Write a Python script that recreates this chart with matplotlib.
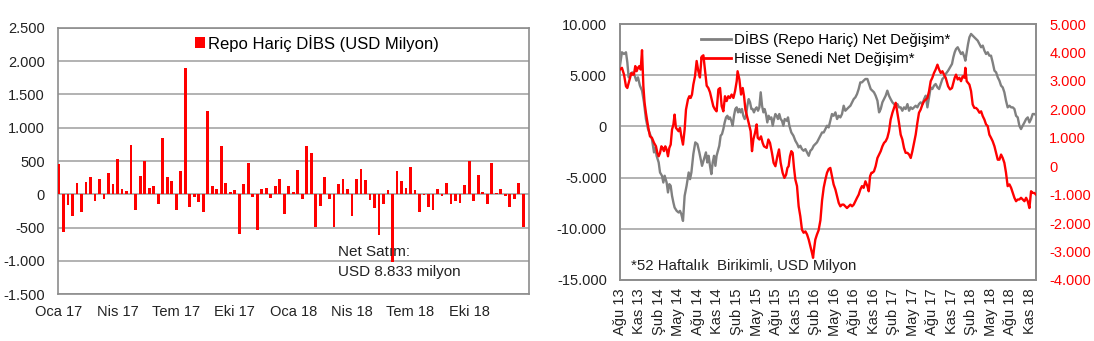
import matplotlib
matplotlib.use('Agg')
import matplotlib.pyplot as plt
from matplotlib.lines import Line2D

plt.rcParams['font.family'] = ['Liberation Sans', 'DejaVu Sans']

# ---------------- Left panel data: weekly net flows (USD mn) ----------------
flow_values = [
    460, -575, -155, -330, 170, -260, 185, 255, -105, 235,
    -75, 320, 150, 530, 80, 50, 740, -230, 270, 495,
    100, 120, -140, 845, 255, 205, -230, 355, 1895, -195,
    -40, -110, -260, 1255, 120, 85, 725, 170, 35, 70,
    -605, 155, 465, -35, -540, 80, 95, -60, 120, 235,
    -295, 120, 35, 360, -75, 725, 620, -490, -175, 255,
    -75, -490, 155, 235, 85, -330, 235, 375, 220, -90,
    -210, -620, -140, 65, -1020, 355, 205, 100, 410, 65,
    -260, -10, -190, -230, 80, -20, 170, -140, -105, -125,
    135, 495, -105, 290, 35, -140, 465, 15, 85, -20,
    -190, -75, 170, -490,
]
flow_xlabels = ['Oca 17', 'Nis 17', 'Tem 17', 'Eki 17', 'Oca 18', 'Nis 18', 'Tem 18', 'Eki 18']
flow_yticks = [-1500, -1000, -500, 0, 500, 1000, 1500, 2000, 2500]
flow_ylabels = ['-1.500', '-1.000', '-500', '0', '500', '1.000', '1.500', '2.000', '2.500']
flow_legend = 'Repo Hariç DİBS (USD Milyon)'
flow_note = ['Net Satım:', 'USD 8.833 milyon']

# ---------------- Right panel data: 52-week cumulative (USD mn) ----------------
dibs_weeks = [
    0.0, 1.3, 2.7, 4.0, 4.9, 5.8, 7.1, 8.4, 9.8, 10.9,
    12.0, 13.3, 14.7, 16.0, 17.3, 18.7, 20.0, 21.3, 22.7, 23.6,
    24.4, 25.8, 26.7, 28.0, 28.9, 29.8, 31.1, 32.0, 32.9, 33.8,
    34.7, 35.6, 36.4, 37.8, 39.1, 40.0, 40.9, 42.0, 43.1, 44.4,
    45.8, 46.7, 47.6, 48.9, 50.2, 51.6, 52.9,
    54.7, 56.0, 57.3, 58.2, 59.1, 60.0, 60.9, 61.8, 62.7, 63.6,
    64.4, 65.3, 66.2, 67.1, 68.0, 68.9, 69.8, 70.7, 71.6, 72.4,
    73.3, 74.2, 75.1, 76.0, 76.9, 77.8, 78.7, 79.6, 80.4, 81.3,
    82.2, 83.1, 84.0, 84.9, 85.8, 86.7, 87.6, 88.4, 89.3, 90.2,
    91.1, 92.0, 92.9, 93.8, 94.7, 95.6, 96.4, 97.3, 98.2, 99.1,
    100.0, 100.9, 101.8, 102.7, 103.6, 104.4, 105.3, 106.2, 107.1, 108.0,
    108.9, 109.8,
    111.1, 112.0, 112.9, 114.2, 115.6, 116.9, 118.2, 119.1, 120.2, 121.3,
    122.4, 123.6, 124.7, 125.8, 126.9, 128.0, 129.1, 130.2, 131.3, 132.4,
    133.6, 134.7, 135.8, 136.9, 138.0, 139.1, 140.2, 141.3, 142.4, 143.6,
    144.7, 145.8, 146.9, 148.0, 149.1, 150.2, 151.3, 152.4, 153.6, 154.7,
    155.8, 156.9, 158.0, 159.1, 160.2, 161.3, 162.4, 163.6,
    164.9, 166.0, 167.1, 168.2, 169.3, 170.4, 171.6, 172.7, 173.8, 174.9,
    176.0, 177.1, 178.2, 179.3, 180.4, 181.6, 182.7, 183.8, 184.9, 186.0,
    187.1, 188.2, 189.3, 190.4, 191.6, 192.7, 193.8, 194.9, 196.0, 197.1,
    198.2, 199.3, 200.4, 201.6, 202.7, 203.8, 204.9, 206.0, 207.1, 208.2,
    209.3, 210.4, 211.6, 212.7, 213.8, 214.9, 216.0, 217.1,
    218.7, 220.0, 221.3, 222.2, 223.1, 224.0, 225.1, 226.2, 227.3, 228.4,
    229.6, 230.2, 231.1, 232.0, 232.9, 234.0, 235.1, 236.2, 237.3, 238.4,
    239.6, 240.7, 241.8, 242.9, 244.0, 245.1, 246.2, 247.3, 248.4, 249.6,
    250.7, 251.8, 252.9, 254.0, 255.1, 256.2, 257.3, 258.4, 259.6, 260.7,
    261.8, 262.9, 264.0, 265.1, 266.2, 267.3, 268.4, 269.6, 270.7, 271.8,
    272.9, 274.0, 275.1, 276.2, 277.3,
]
dibs_values = [
    5930, 7240, 7070, 7240, 6260, 4790, 5120, 5280, 4960, 4470,
    4790, 3980, 3490, 2350, 720, -260, -750, -1240, -2540, -2050,
    -2870, -3520, -4500, -4820, -5480, -4820, -5480, -6450, -5640, -5800,
    -6780, -7430, -7920, -8250, -8410, -8250, -8570, -9230, -6780, -5800,
    -4500, -5150, -4500, -2700, -1560, -1730, -2540,
    -3850, -3200, -2540, -3520, -2870, -3850, -4660, -3520, -2870, -3850,
    -2870, -2380, -1890, -910, -750, -260, 390, 880, 1040, 720,
    880, 550, 65, 1040, 1700, 1860, 1370, 1700, 1370, 1700,
    1040, 720, 1040, 2020, 2670, 2350, 1700, 1700, 1370, 1700,
    1860, 1530, 1860, 3330, 2020, 1370, 1700, 1210, 390, 1040,
    720, 880, 65, 720, 1210, 1040, 720, 1210, 720, 550,
    65, 720,
    550, 880, 65, -590, -910, -1400, -1730, -2050, -1890, -2220,
    -2380, -2220, -2540, -2870, -2380, -2220, -1890, -1730, -1560, -1240,
    -910, -590, -590, -260, 65, -100, 550, 1210, 1040, 1370,
    720, 1040, 880, 1210, 2020, 1530, 1700, 1860, 2020, 2350,
    2670, 2840, 3160, 3650, 4300, 4300, 4470, 4630,
    4630, 4140, 3650, 3490, 3330, 3000, 2510, 1370, 1700, 2350,
    2670, 3000, 3490, 3000, 2670, 2350, 2180, 2020, 2180, 1860,
    1860, 1530, 1860, 1700, 2180, 1530, 1860, 1700, 1860, 2020,
    1860, 2180, 2350, 2180, 2670, 3000, 1860, 2840, 3810, 3650,
    3980, 4140, 3810, 3650, 4140, 4630, 4790, 5120,
    5440, 5770, 6100, 6750, 7240, 7560, 7730, 7400, 7070, 7240,
    6750, 6420, 7240, 8050, 8700, 9030, 8860, 8700, 8540, 8380,
    8050, 7730, 7890, 7400, 7070, 7240, 6910, 6910, 6260, 5440,
    5280, 4790, 4470, 3980, 3810, 3330, 2510, 1860, 2020, 1860,
    1860, 1700, 1040, 880, 65, -260, 65, 390, 720, 880,
    390, 720, 1210, 1210, 1100,
]
equity_weeks = [
    0.0, 1.3, 2.7, 4.0, 4.9, 5.8, 6.7, 7.6, 8.4, 9.3,
    10.2, 11.1, 12.0, 12.9, 13.8, 14.7, 15.6, 16.4, 17.3, 18.7,
    20.0, 21.3, 22.7, 24.0, 24.9, 25.8, 26.7, 27.6, 28.4, 29.3,
    30.2, 31.1, 32.0, 32.9, 33.8, 34.7, 35.6, 36.4, 37.3, 38.2,
    39.1, 40.0, 40.9, 42.0, 43.1, 44.0, 45.3, 46.2, 47.1, 48.0,
    48.9, 50.0, 51.1, 52.2, 53.3, 54.4, 55.6, 56.7, 57.8, 58.9,
    60.0, 61.1, 62.2, 63.3, 64.4, 65.6, 66.7, 67.8, 68.9, 70.0,
    71.1, 72.2, 73.3, 74.4, 75.6, 76.7, 77.8, 78.4, 79.6, 80.7,
    81.8, 82.7, 83.6, 84.4, 85.8, 87.1, 88.0, 88.9, 90.0, 91.1,
    91.8, 92.9, 94.0, 95.1, 96.0, 97.8, 98.9, 100.0, 101.3, 102.4,
    103.6, 104.9, 106.0, 107.1, 108.4, 109.6, 110.7, 111.6, 112.4, 113.3,
    114.2, 115.1, 116.0, 116.9, 118.0, 119.1, 120.2, 121.3, 122.4, 123.6,
    124.7, 125.8, 126.9, 128.0, 128.7, 129.3, 130.2, 131.3, 132.4, 133.6,
    134.7, 135.8, 136.9, 138.0, 139.1, 140.2, 141.3, 142.4, 143.6, 144.7,
    145.8, 146.9, 148.0, 149.1, 150.2, 151.3, 152.4, 153.6, 154.7, 155.8,
    156.9, 158.0, 159.1, 160.2, 161.3, 162.4, 163.6, 164.9, 165.8, 166.7,
    167.6, 168.2, 169.3, 170.4, 171.6, 172.7, 173.8, 174.9, 176.0, 177.1,
    178.2, 179.3, 180.4, 181.6, 182.7, 183.8, 184.9, 186.0, 187.1, 188.2,
    189.3, 190.4, 191.6, 192.7, 193.8, 194.9, 196.0, 197.1, 198.2, 199.3,
    200.4, 201.6, 202.7, 203.8, 204.9, 206.0, 207.1, 208.2, 209.3, 210.4,
    211.6, 212.7, 213.8, 214.9, 216.0, 217.1, 218.7, 220.0, 221.3, 222.2,
    223.1, 224.0, 225.1, 226.2, 227.3, 228.4, 229.6, 230.2, 231.1, 232.0,
    232.9, 234.0, 235.1, 236.2, 237.3, 238.4, 239.6, 240.7, 241.8, 242.9,
    244.0, 245.1, 246.2, 247.3, 248.4, 249.6, 250.7, 251.8, 252.9, 254.0,
    255.1, 256.2, 257.3, 258.4, 259.6, 260.7, 261.8, 262.9, 264.0, 265.1,
    266.2, 267.3, 268.4, 269.6, 270.7, 271.8, 272.9, 274.0, 275.1, 276.2,
    277.3,
]
equity_values = [
    3400, 3460, 3220, 2810, 2750, 2930, 3110, 3280, 3220, 3220,
    3520, 3340, 3460, 3520, 3400, 4080, 2810, 2230, 1875, 1410,
    1050, 1000, 820, 700, 470, 350, 470, 700, 645, 530,
    700, 590, 350, 645, 760, 1290, 1465, 1815, 1350, 1290,
    1230, 1350, 1050, 760, 1290, 1990, 2345, 2460, 2400, 2520,
    2870, 3160, 3700, 3350, 3120, 3850, 3900, 3360, 2830, 2750,
    2600, 2350, 2110, 2000, 1930, 2700, 2750, 2110, 1930, 2460,
    2290, 2460, 2400, 2520, 2400, 2640, 2990, 3340, 3050, 2520,
    2750, 2460, 1990, 1820, 1520, 1230, 530, 940, 1170, 1470,
    1000, 940, 1050, 820, 700, 645, 940, 820, 470, 120,
    0, 350, 590, 120, -230, -410, -300, -60, 0, 350,
    530, 470, -60, -470, -700, -1410, -1760, -2230, -2340, -2290,
    -2400, -2580, -2810, -3050, -3220, -2930, -2580, -2400, -2250, -1900,
    -1200, -750, -470, -230, -100, -60, -350, -640, -820, -1050,
    -1290, -1410, -1350, -1350, -1410, -1470, -1410, -1350, -1410, -1350,
    -1230, -1110, -1000, -820, -700, -760, -530, -700, -880, -350,
    -230, -230, -180, 0, 290, 410, 530, 700, 820, 880,
    1000, 1230, 1640, 1880, 2050, 2230, 1880, 1520, 1110, 940,
    645, 470, 470, 410, 290, 530, 820, 1110, 1520, 1880,
    1990, 2170, 2290, 2340, 2400, 2640, 2990, 3110, 3280, 3400,
    3570, 3400, 3280, 3340, 3220, 3110, 2810, 2700, 2750, 2930,
    3110, 3220, 3050, 3110, 2990, 3160, 3110, 3460, 2990, 2930,
    2870, 2640, 2170, 2050, 2050, 1990, 1880, 1930, 1760, 1640,
    1470, 1410, 1110, 1000, 880, 700, 470, 230, 230, 410,
    290, 120, -230, -700, -640, -760, -940, -1110, -1230, -1170,
    -1170, -1110, -1170, -1230, -1110, -1230, -1470, -880, -940, -940,
    -1000,
]
cum_xlabels = ['Ağu 13', 'Kas 13', 'Şub 14', 'May 14', 'Ağu 14', 'Kas 14', 'Şub 15', 'May 15',
               'Ağu 15', 'Kas 15', 'Şub 16', 'May 16', 'Ağu 16', 'Kas 16', 'Şub 17', 'May 17',
               'Ağu 17', 'Kas 17', 'Şub 18', 'May 18', 'Ağu 18', 'Kas 18']
weeks_per_label = 13
left_yticks = [-15000, -10000, -5000, 0, 5000, 10000]
left_ylabels = ['-15.000', '-10.000', '-5.000', '0', '5.000', '10.000']
right_yticks = [-4000, -3000, -2000, -1000, 0, 1000, 2000, 3000, 4000, 5000]
right_ylabels = ['-4.000', '-3.000', '-2.000', '-1.000', '0', '1.000', '2.000', '3.000', '4.000', '5.000']
dibs_label = 'DİBS (Repo Hariç) Net Değişim*'
equity_label = 'Hisse Senedi Net Değişim*'
cum_note = '*52 Haftalık  Birikimli, USD Milyon'

RED = '#ff0000'
GRAY = '#808080'
GRID = '#a6a6a6'
FRAME = '#8c8c8c'
TICK_FS = 10.5

fig = plt.figure(figsize=(10.94, 3.41), dpi=100)

# ---------------- Left panel ----------------
ax1 = fig.add_axes([0.0533, 0.1378, 0.4303, 0.7801])
xs = list(range(len(flow_values)))
ax1.bar(xs, flow_values, width=0.62, color=RED, label=flow_legend, zorder=3)
ax1.set_xlim(-0.15, 104.3)
ax1.set_ylim(flow_yticks[0], flow_yticks[-1])
ax1.set_yticks(flow_yticks, flow_ylabels)
ax1.set_xticks(xs[::13][:len(flow_xlabels)], flow_xlabels)
ax1.grid(axis='y', color=GRID, lw=1.2, zorder=0)
ax1.tick_params(axis='y', length=0, pad=9.5, labelsize=TICK_FS, colors='#222222')
ax1.tick_params(axis='x', length=0, pad=8, labelsize=TICK_FS, colors='#222222')
for s in ax1.spines.values():
    s.set_color(FRAME)
    s.set_linewidth(1.2)
ax1.legend(loc='upper left', bbox_to_anchor=(0.29, 0.975), frameon=False,
           borderpad=0, borderaxespad=0, handlelength=0.6, handleheight=0.6,
           handletextpad=0.2, fontsize=12)
ax1.text(0.594, 0.158, flow_note[0], transform=ax1.transAxes, fontsize=11,
         va='center', ha='left', color='#222222')
ax1.text(0.594, 0.081, flow_note[1], transform=ax1.transAxes, fontsize=11,
         va='center', ha='left', color='#222222')

# ---------------- Right panel ----------------
ax2 = fig.add_axes([0.5667, 0.1789, 0.3803, 0.7507])
ax3 = ax2.twinx()
ax2.plot(dibs_weeks, dibs_values, color=GRAY, lw=1.7, zorder=3)
ax3.plot(equity_weeks, equity_values, color=RED, lw=1.7, zorder=3)
ax2.set_xlim(0, 277.3)
ax2.set_ylim(left_yticks[0], left_yticks[-1])
ax3.set_ylim(right_yticks[0], right_yticks[-1])
ax2.set_yticks(left_yticks, left_ylabels)
ax3.set_yticks(right_yticks, right_ylabels)
tick_pos = [i * weeks_per_label for i in range(len(cum_xlabels))]
ax2.set_xticks(tick_pos, cum_xlabels, rotation=90)
ax2.grid(axis='y', color=GRID, lw=1.2, zorder=0)
ax2.tick_params(axis='y', length=0, pad=9.5, labelsize=TICK_FS, colors='#222222')
ax2.tick_params(axis='x', length=0, pad=6, labelsize=TICK_FS, colors='#222222')
ax3.tick_params(axis='y', length=0, pad=9.5, labelsize=TICK_FS, colors=RED)
for a in (ax2, ax3):
    for s in a.spines.values():
        s.set_color(FRAME)
        s.set_linewidth(1.2)

handles = [Line2D([], [], color=GRAY, lw=2.0), Line2D([], [], color=RED, lw=2.0)]
ax3.legend(handles, [dibs_label, equity_label], loc='upper left',
           bbox_to_anchor=(0.195, 0.972), frameon=False, borderpad=0,
           borderaxespad=0, handlelength=2.0, handletextpad=0.2,
           labelspacing=0.32, fontsize=10.8)
ax2.text(0.026, 0.053, cum_note, transform=ax2.transAxes, fontsize=10.8,
         va='center', ha='left', color='#222222')

fig.savefig('out.png', dpi=100)
